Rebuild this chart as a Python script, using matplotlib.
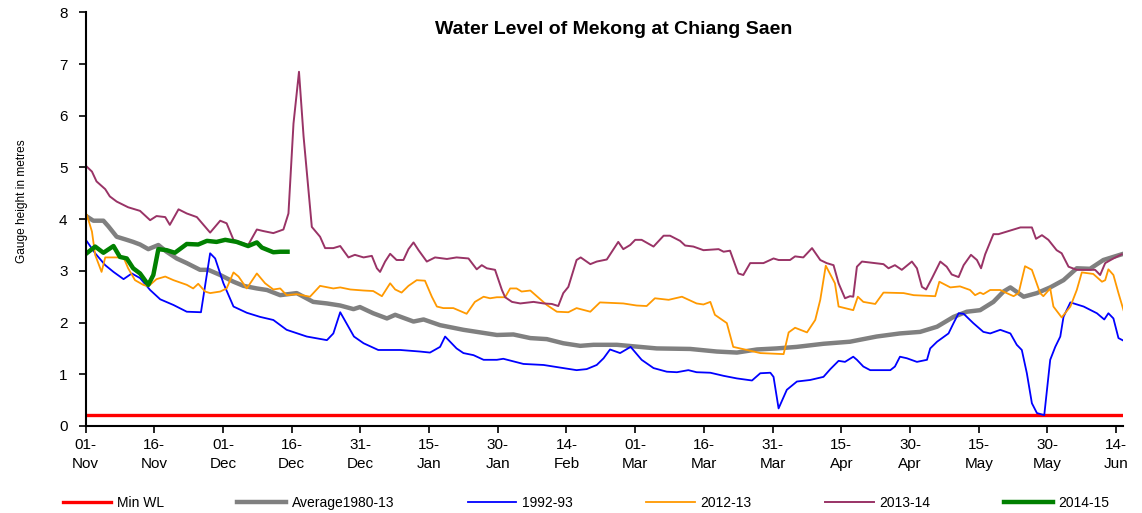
import matplotlib
matplotlib.use("Agg")
import matplotlib.pyplot as plt

plt.rcParams['font.family'] = ['Liberation Sans', 'DejaVu Sans']

# days counted from 01-Nov
tick_days = list(range(0, 226, 15))
tick_labels = ["01-\nNov", "16-\nNov", "01-\nDec", "16-\nDec", "31-\nDec", "15-\nJan",
               "30-\nJan", "14-\nFeb", "01-\nMar", "16-\nMar", "31-\nMar", "15-\nApr",
               "30-\nApr", "15-\nMay", "30-\nMay", "14-\nJun"]

min_wl = 0.22

avg_days = [0.3, 1.7, 3.9, 5.0, 6.8, 9.0, 10.4, 11.9, 13.7, 15.9, 17.7, 19.9, 22.1, 25.0,
            26.8, 29.4, 32.3, 34.5, 37.4, 39.6, 42.5, 46.1, 49.7, 52.7, 55.6, 58.5, 59.9,
            62.8, 65.8, 67.6, 71.6, 73.8, 77.4, 82.5, 89.8, 93.4, 97.1, 100.7, 104.3, 108.0,
            110.9, 116.0, 124.7, 132.0, 137.8, 142.2, 146.6, 150.9, 155.3, 161.1, 166.9,
            172.7, 177.8, 182.2, 185.9, 189.5, 192.4, 195.3, 198.2, 200.4, 201.9, 204.8,
            207.7, 210.6, 213.5, 216.4, 219.3, 222.2, 226.2]
avg_vals = [4.05, 3.97, 3.97, 3.86, 3.66, 3.60, 3.56, 3.51, 3.42, 3.50, 3.37, 3.24, 3.15, 3.02,
            3.02, 2.92, 2.79, 2.71, 2.66, 2.63, 2.53, 2.57, 2.40, 2.37, 2.33, 2.26, 2.30,
            2.18, 2.08, 2.15, 2.02, 2.06, 1.95, 1.86, 1.76, 1.77, 1.70, 1.68, 1.60, 1.55,
            1.57, 1.57, 1.50, 1.49, 1.44, 1.42, 1.48, 1.50, 1.53, 1.59, 1.63,
            1.73, 1.79, 1.82, 1.92, 2.11, 2.21, 2.24, 2.40, 2.60, 2.68, 2.50,
            2.57, 2.68, 2.82, 3.05, 3.04, 3.21, 3.32]

y9293_days = [0.3, 2.1, 4.3, 6.1, 8.3, 10.1, 11.9, 14.1, 16.3, 19.2, 22.1, 25.2, 27.2, 28.3,
              30.1, 32.3, 35.2, 38.1, 41.0, 43.9, 48.3, 52.7, 54.1, 55.6, 58.6, 60.7, 63.9,
              68.7, 73.0, 75.2, 77.4, 78.5, 81.0, 82.5, 84.7, 86.9, 89.8, 91.2, 95.6, 100.0,
              104.3, 107.2, 109.4, 111.6, 113.1, 114.5, 116.7, 119.0, 121.4, 124.0, 126.9,
              129.1, 131.6, 133.4, 136.4, 139.3, 142.2, 145.5, 147.3, 149.5, 150.2, 151.3,
              153.1, 155.3, 158.2, 161.1, 162.6, 164.4, 165.8, 167.6, 168.4, 169.8, 171.3,
              175.7, 176.7, 177.8, 179.3, 181.5, 183.7, 184.4, 185.9, 188.4, 189.5, 190.6,
              191.7, 193.8, 196.0, 197.5, 199.7, 201.9, 203.3, 204.4, 205.5, 206.6, 207.7,
              209.3, 210.6, 211.7, 212.8, 213.5, 215.0, 217.9, 220.8, 222.4, 223.3, 224.4,
              225.5, 226.6]
y9293_vals = [3.57, 3.34, 3.11, 2.98, 2.84, 2.95, 2.86, 2.63, 2.45, 2.34, 2.21, 2.20, 3.34, 3.24,
              2.76, 2.31, 2.19, 2.11, 2.05, 1.86, 1.73, 1.66, 1.79, 2.20, 1.73, 1.60, 1.47,
              1.47, 1.44, 1.42, 1.53, 1.73, 1.50, 1.41, 1.37, 1.28, 1.28, 1.30, 1.20, 1.18,
              1.12, 1.08, 1.10, 1.18, 1.31, 1.48, 1.41, 1.53, 1.28, 1.12, 1.05,
              1.04, 1.08, 1.04, 1.03, 0.97, 0.92, 0.88, 1.02, 1.03, 0.95, 0.34,
              0.70, 0.86, 0.89, 0.95, 1.10, 1.26, 1.24, 1.34, 1.28, 1.15, 1.08,
              1.08, 1.15, 1.34, 1.31, 1.24, 1.28, 1.50, 1.63, 1.79, 1.99, 2.18,
              2.17, 1.99, 1.82, 1.79, 1.86, 1.79, 1.57, 1.47, 1.02, 0.44, 0.25,
              0.21, 1.28, 1.53, 1.73, 2.11, 2.39, 2.31, 2.18, 2.06, 2.18, 2.08,
              1.70, 1.65]

y1213_days = [0.3, 1.4, 2.1, 3.5, 4.3, 8.3, 9.3, 10.8, 12.6, 13.7, 15.5, 17.4, 19.2, 22.1,
              23.5, 24.6, 26.1, 27.2, 29.4, 30.8, 32.3, 33.4, 35.2, 37.4, 39.2, 41.0, 42.5,
              43.9, 46.1, 49.0, 51.2, 54.1, 55.6, 57.8, 60.7, 62.8, 64.7, 66.5, 67.6, 69.0,
              70.5, 72.3, 74.1, 75.6, 76.7, 78.1, 80.3, 83.2, 85.0, 86.9, 88.3, 89.8, 91.6,
              92.7, 94.1, 95.2, 97.1, 100.7, 102.9, 105.4, 107.2, 110.2, 112.3, 117.4, 120.3,
              122.5, 124.3, 127.3, 130.2, 133.4, 134.9, 136.4, 137.4, 140.0, 141.4, 144.4,
              147.3, 152.4, 153.5, 154.9, 157.5, 159.3, 160.4, 161.6, 163.6, 164.4, 167.6,
              168.6, 169.8, 172.4, 174.2, 178.6, 180.8, 185.5, 186.4, 188.8, 190.9, 193.1,
              194.2, 195.3, 196.0, 197.5, 199.7, 201.1, 202.6, 203.7, 205.1, 206.6, 208.4,
              209.1, 210.6, 211.3, 213.1, 215.0, 216.4, 217.5, 220.0, 221.9, 222.6, 223.3,
              224.4, 225.5, 226.6]
y1213_vals = [4.08, 3.76, 3.31, 2.98, 3.26, 3.26, 3.05, 2.82, 2.73, 2.70, 2.84, 2.89, 2.82, 2.73,
              2.66, 2.75, 2.60, 2.57, 2.60, 2.66, 2.97, 2.89, 2.66, 2.95, 2.76, 2.64, 2.66,
              2.53, 2.55, 2.50, 2.71, 2.66, 2.68, 2.64, 2.62, 2.61, 2.51, 2.76, 2.64, 2.58,
              2.71, 2.82, 2.81, 2.50, 2.31, 2.28, 2.28, 2.17, 2.40, 2.50, 2.47, 2.49, 2.49,
              2.66, 2.66, 2.60, 2.62, 2.34, 2.21, 2.20, 2.28, 2.21, 2.39, 2.37, 2.33,
              2.32, 2.47, 2.44, 2.50, 2.37, 2.35, 2.40, 2.15, 1.99, 1.53, 1.47,
              1.41, 1.39, 1.81, 1.90, 1.81, 2.05, 2.44, 3.10, 2.76, 2.31, 2.24,
              2.50, 2.40, 2.36, 2.58, 2.57, 2.53, 2.51, 2.79, 2.68, 2.70, 2.63,
              2.53, 2.58, 2.55, 2.63, 2.63, 2.57, 2.51, 2.57, 3.09, 3.02, 2.57,
              2.51, 2.66, 2.31, 2.10, 2.31, 2.63, 2.97, 2.94, 2.79, 2.82, 3.03,
              2.92, 2.57, 2.24]

y1314_days = [0.1, 1.4, 2.4, 4.3, 5.3, 6.8, 9.3, 11.9, 14.1, 15.5, 17.4, 18.4, 20.3, 22.1,
              24.3, 27.2, 29.4, 30.8, 32.3, 35.5, 37.4, 38.8, 41.0, 43.2, 44.3, 45.4, 46.6,
              47.6, 49.4, 51.2, 52.3, 54.1, 55.6, 57.4, 58.8, 60.7, 62.5, 63.6, 64.3, 65.4,
              66.5, 67.9, 69.4, 70.5, 71.6, 72.7, 74.5, 76.3, 78.9, 81.0, 83.6, 85.4, 86.5,
              87.6, 89.4, 90.9, 91.6, 93.1, 94.9, 97.8, 100.0, 101.8, 103.2, 104.3, 105.4,
              107.2, 108.1, 110.2, 111.6, 113.8, 114.9, 116.3, 117.4, 118.9, 120.0, 121.4,
              124.0, 126.2, 127.6, 129.8, 130.9, 132.7, 134.9, 138.2, 139.3, 140.7, 142.5,
              143.6, 145.1, 148.0, 150.2, 151.3, 153.8, 154.9, 156.7, 158.6, 160.4, 161.8,
              163.3, 164.4, 165.8, 166.9, 167.6, 168.4, 169.5, 174.2, 175.3, 176.7, 178.2,
              180.4, 181.5, 182.6, 183.5, 184.8, 186.6, 188.0, 189.1, 190.6, 191.7, 193.3,
              194.6, 195.5, 196.4, 198.2, 199.3, 201.9, 204.1, 206.6, 207.5, 208.8, 210.2,
              212.0, 213.1, 214.6, 216.4, 220.4, 221.5, 222.6, 224.4, 226.2]
y1314_vals = [5.03, 4.92, 4.73, 4.58, 4.44, 4.34, 4.23, 4.16, 3.98, 4.06, 4.04, 3.89, 4.19, 4.11,
              4.04, 3.74, 3.97, 3.92, 3.60, 3.50, 3.80, 3.77, 3.73, 3.80, 4.11, 5.85, 6.85,
              5.60, 3.85, 3.66, 3.44, 3.44, 3.48, 3.26, 3.31, 3.26, 3.29, 3.05, 2.98, 3.18,
              3.33, 3.21, 3.21, 3.42, 3.55, 3.40, 3.18, 3.26, 3.23, 3.26, 3.24, 3.03, 3.11,
              3.05, 3.02, 2.63, 2.49, 2.40, 2.37, 2.40, 2.37, 2.36, 2.32, 2.57, 2.69,
              3.21, 3.26, 3.13, 3.18, 3.22, 3.37, 3.56, 3.42, 3.50, 3.60, 3.60,
              3.47, 3.68, 3.68, 3.58, 3.49, 3.47, 3.40, 3.42, 3.37, 3.39, 2.95,
              2.92, 3.15, 3.15, 3.24, 3.21, 3.21, 3.28, 3.26, 3.44, 3.21, 3.15,
              3.11, 2.76, 2.47, 2.51, 2.50, 3.08, 3.18, 3.13, 3.05, 3.11, 3.02,
              3.18, 3.05, 2.69, 2.64, 2.86, 3.18, 3.08, 2.93, 2.88, 3.11, 3.31,
              3.21, 3.05, 3.32, 3.71, 3.71, 3.78, 3.84, 3.84, 3.62, 3.69, 3.60,
              3.40, 3.34, 3.08, 3.02, 3.02, 2.92, 3.15, 3.24, 3.32]

y1415_days = [0.1, 2.1, 3.9, 6.1, 7.5, 9.0, 10.4, 11.9, 13.7, 14.8, 15.9, 17.7, 19.5, 22.1,
              24.6, 26.5, 28.6, 30.5, 33.0, 35.5, 37.4, 38.5, 41.0, 42.5, 44.1]
y1415_vals = [3.33, 3.47, 3.35, 3.48, 3.27, 3.24, 3.05, 2.95, 2.73, 2.92, 3.42, 3.40, 3.35, 3.52,
              3.51, 3.58, 3.56, 3.60, 3.56, 3.48, 3.55, 3.45, 3.36, 3.37, 3.37]

fig = plt.figure(figsize=(11.42, 5.13), dpi=100)
ax = fig.add_axes([0.0749, 0.1696, 0.9085, 0.8064])

ax.axhline(min_wl, color='#FF0000', lw=2.4, label='Min WL')
ax.plot(avg_days, avg_vals, color='#808080', lw=3.2, label='Average1980-13')
ax.plot(y9293_days, y9293_vals, color='#0000FF', lw=1.3, label='1992-93')
ax.plot(y1213_days, y1213_vals, color='#FF9900', lw=1.3, label='2012-13')
ax.plot(y1314_days, y1314_vals, color='#993366', lw=1.4, label='2013-14')
ax.plot(y1415_days, y1415_vals, color='#008000', lw=3.2, label='2014-15')

ax.set_xlim(0, 226.5)
ax.set_ylim(0, 8)
ax.set_xticks(tick_days)
ax.set_xticklabels(tick_labels, fontsize=11, linespacing=1.45)
ax.set_yticks(range(0, 9))
ax.tick_params(axis='y', labelsize=11, direction='out', length=5, width=1.2, pad=8)
ax.tick_params(axis='x', direction='out', length=5, width=1.2, pad=4)
for side in ['top', 'right']:
    ax.spines[side].set_visible(False)
for side in ['left', 'bottom']:
    ax.spines[side].set_linewidth(1.5)

ax.set_ylabel('Gauge height in metres', fontsize=8.6)
ax.yaxis.set_label_coords(-0.055, 0.543)

fig.text(0.537, 0.943, 'Water Level of Mekong at Chiang Saen', ha='center', va='center',
         fontsize=14, fontweight='bold')

fig.legend(loc='center', bbox_to_anchor=(0.513, 0.02), ncol=6, frameon=False,
           fontsize=10, handlelength=3.5, columnspacing=5.3, handletextpad=0.4)

fig.savefig('out.png', dpi=100)
